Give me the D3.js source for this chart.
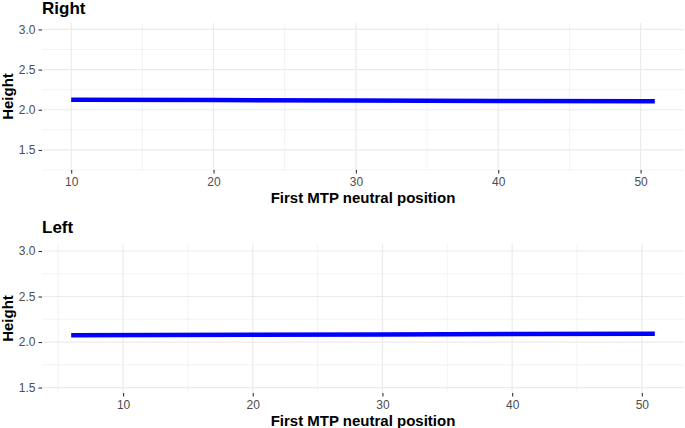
<!DOCTYPE html>
<html>
<head>
<meta charset="utf-8">
<script src="https://cdn.jsdelivr.net/npm/d3@7"></script>
<style>
  body { margin: 0; background: white; }
  text { font-family: "Liberation Sans", Arial, sans-serif; }
</style>
</head>
<body>
<div id="vis"></div>
<script>
// fitted line values
let rightX = [10, 20, 30, 40, 51];
let rightY = [2.125, 2.12, 2.115, 2.11, 2.105];
let leftX = [6, 20, 30, 40, 51];
let leftY = [2.075, 2.08, 2.084, 2.088, 2.092];

let xTicks = [10, 20, 30, 40, 50];
let yTicks = [1.5, 2.0, 2.5, 3.0];

let W = 685, H = 428;

let svg = d3.select('#vis')
  .append('svg')
  .attr('width', W)
  .attr('height', H)
  .style('background-color', 'white');

// each panel: title, plot box, x/y domains
let panels = [
  { title: 'Right', titleY: 14, top: 23, bottom: 170, xDom: [7.95, 53.05], yDom: [1.25, 3.08],
    xMinor: [15, 25, 35, 45], yMinor: [1.25, 1.75, 2.25, 2.75], xs: rightX, ys: rightY },
  { title: 'Left', titleY: 233, top: 244, bottom: 393, xDom: [3.75, 53.25], yDom: [1.44, 3.077],
    xMinor: [5, 15, 25, 35, 45], yMinor: [1.75, 2.25, 2.75], xs: leftX, ys: leftY }
];

let left = 42, right = 684;

panels.forEach(function (p) {
  let g = svg.append('g');

  let x = d3.scaleLinear().domain(p.xDom).range([left, right]);
  let y = d3.scaleLinear().domain(p.yDom).range([p.bottom, p.top]);

  // minor grid
  g.append('g').selectAll('line').data(p.xMinor).join('line')
    .attr('x1', d => x(d)).attr('x2', d => x(d))
    .attr('y1', p.top).attr('y2', p.bottom)
    .attr('stroke', '#ebebeb').attr('stroke-width', 0.6);
  g.append('g').selectAll('line').data(p.yMinor).join('line')
    .attr('x1', left).attr('x2', right)
    .attr('y1', d => y(d)).attr('y2', d => y(d))
    .attr('stroke', '#ebebeb').attr('stroke-width', 0.6);

  // major grid
  g.append('g').selectAll('line').data(xTicks).join('line')
    .attr('x1', d => x(d)).attr('x2', d => x(d))
    .attr('y1', p.top).attr('y2', p.bottom)
    .attr('stroke', '#ebebeb').attr('stroke-width', 1.2);
  g.append('g').selectAll('line').data(yTicks).join('line')
    .attr('x1', left).attr('x2', right)
    .attr('y1', d => y(d)).attr('y2', d => y(d))
    .attr('stroke', '#ebebeb').attr('stroke-width', 1.2);

  // axes
  let xAxis = g.append('g')
    .attr('transform', `translate(0, ${p.bottom})`)
    .call(d3.axisBottom(x).tickValues(xTicks).tickSize(3.5).tickPadding(4).tickFormat(d3.format('d')));
  let yAxis = g.append('g')
    .attr('transform', `translate(${left}, 0)`)
    .call(d3.axisLeft(y).tickValues(yTicks).tickSize(3.5).tickPadding(3).tickFormat(d3.format('.1f')));
  [xAxis, yAxis].forEach(function (a) {
    a.select('.domain').remove();
    a.selectAll('.tick line').attr('stroke', '#333333').attr('stroke-width', 1.1);
    a.selectAll('.tick text').attr('fill', '#4d4d4d')
      .style('font-family', '"Liberation Sans", Arial, sans-serif').style('font-size', '12px');
  });

  // the fitted line
  let line = d3.line().x(d => x(d[0])).y(d => y(d[1]));
  g.append('path')
    .datum(d3.zip(p.xs, p.ys))
    .attr('d', line)
    .attr('fill', 'none')
    .attr('stroke', '#0000ff')
    .attr('stroke-width', 4.5);

  // title
  g.append('text')
    .attr('x', left).attr('y', p.titleY)
    .style('font-size', '17px').style('font-weight', 'bold')
    .text(p.title);

  // axis labels
  g.append('text')
    .attr('x', (left + right) / 2).attr('y', p.bottom + 33)
    .attr('text-anchor', 'middle')
    .style('font-size', '15px').style('font-weight', 'bold')
    .text('First MTP neutral position');
  g.append('text')
    .attr('transform', `translate(13, ${(p.top + p.bottom) / 2}) rotate(-90)`)
    .attr('text-anchor', 'middle')
    .style('font-size', '15px').style('font-weight', 'bold')
    .text('Height');
});
</script>
</body>
</html>
